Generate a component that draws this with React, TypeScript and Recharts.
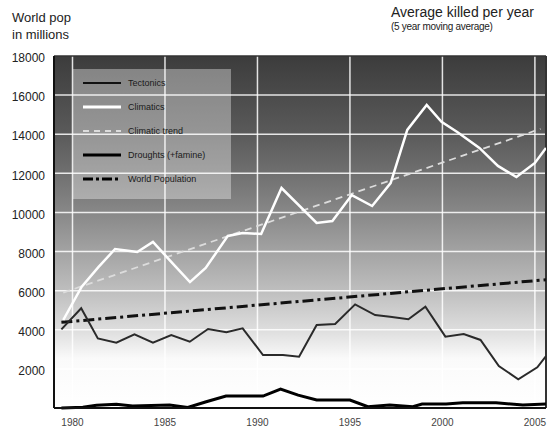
import { CartesianGrid, Line, LineChart, ReferenceLine, XAxis, YAxis } from "recharts";

type Point = { year: number; v: number };

const yearTicks = [1980, 1985, 1990, 1995, 2000, 2005];
const valueTicks = [2000, 4000, 6000, 8000, 10000, 12000, 14000, 16000, 18000];
const gridValues = [2000, 4000, 6000, 8000, 10000, 12000, 14000, 16000];

const tectonics: Point[] = [
  { year: 1979.4, v: 4020 },
  { year: 1980.47, v: 5100 },
  { year: 1981.37, v: 3560 },
  { year: 1982.37, v: 3340 },
  { year: 1983.35, v: 3770 },
  { year: 1984.35, v: 3340 },
  { year: 1985.34, v: 3730 },
  { year: 1986.34, v: 3390 },
  { year: 1987.33, v: 4040 },
  { year: 1988.32, v: 3870 },
  { year: 1989.2, v: 4075 },
  { year: 1990.3, v: 2710 },
  { year: 1991.38, v: 2710 },
  { year: 1992.25, v: 2620 },
  { year: 1993.2, v: 4245 },
  { year: 1994.2, v: 4300 },
  { year: 1995.28, v: 5300 },
  { year: 1996.36, v: 4750 },
  { year: 1997.17, v: 4670 },
  { year: 1998.16, v: 4540 },
  { year: 1999.08, v: 5180 },
  { year: 2000.16, v: 3650 },
  { year: 2001.15, v: 3780 },
  { year: 2002.06, v: 3480 },
  { year: 2003.05, v: 2150 },
  { year: 2004.1, v: 1470 },
  { year: 2005.13, v: 2080 },
  { year: 2005.6, v: 2650 },
];

const climatics: Point[] = [
  { year: 1979.5, v: 4500 },
  { year: 1980.5, v: 6200 },
  { year: 1981.4, v: 7200 },
  { year: 1982.3, v: 8130 },
  { year: 1983.1, v: 8030 },
  { year: 1983.5, v: 7980 },
  { year: 1984.35, v: 8490 },
  { year: 1985.4, v: 7410 },
  { year: 1986.35, v: 6440 },
  { year: 1987.2, v: 7160 },
  { year: 1988.4, v: 8800 },
  { year: 1989.2, v: 8950 },
  { year: 1990.2, v: 8900 },
  { year: 1991.3, v: 11250 },
  { year: 1993.2, v: 9460 },
  { year: 1994.05, v: 9560 },
  { year: 1995.1, v: 10890 },
  { year: 1996.2, v: 10330 },
  { year: 1997.2, v: 11500 },
  { year: 1998.1, v: 14220 },
  { year: 1999.15, v: 15500 },
  { year: 1999.95, v: 14630 },
  { year: 2000.8, v: 14110 },
  { year: 2002.0, v: 13300 },
  { year: 2003.0, v: 12380 },
  { year: 2004.0, v: 11810 },
  { year: 2005.0, v: 12530 },
  { year: 2005.6, v: 13300 },
];

const climaticTrend: Point[] = [
  { year: 1979.5, v: 5900 },
  { year: 2005.3, v: 14270 },
];

const droughts: Point[] = [
  { year: 1979.4, v: 0 },
  { year: 1980.56, v: 40 },
  { year: 1981.3, v: 140 },
  { year: 1982.37, v: 190 },
  { year: 1983.25, v: 100 },
  { year: 1985.25, v: 150 },
  { year: 1986.23, v: 30 },
  { year: 1987.23, v: 320 },
  { year: 1988.3, v: 610 },
  { year: 1990.3, v: 610 },
  { year: 1991.25, v: 970 },
  { year: 1992.2, v: 660 },
  { year: 1993.2, v: 410 },
  { year: 1995.0, v: 410 },
  { year: 1995.97, v: 70 },
  { year: 1997.15, v: 150 },
  { year: 1998.4, v: 70 },
  { year: 1998.9, v: 200 },
  { year: 2000.2, v: 200 },
  { year: 2001.1, v: 270 },
  { year: 2002.9, v: 270 },
  { year: 2004.35, v: 150 },
  { year: 2005.6, v: 200 },
];

const worldPopulation: Point[] = [
  { year: 1979.4, v: 4380 },
  { year: 2005.6, v: 6560 },
];

const legendItems = [
  { label: "Tectonics", stroke: "#111", width: 2, dash: undefined },
  { label: "Climatics", stroke: "#fff", width: 3, dash: undefined },
  { label: "Climatic trend", stroke: "#dcdcdc", width: 2, dash: "6 5" },
  { label: "Droughts (+famine)", stroke: "#000", width: 3, dash: undefined },
  { label: "World Population", stroke: "#000", width: 3, dash: "10 3 3 3" },
];

const font = '"Liberation Sans", Arial, sans-serif';

function ChartLegend() {
  return (
    <div
      style={{
        position: "absolute",
        left: 73,
        top: 69,
        width: 158,
        height: 130,
        background: "rgba(255,255,255,0.36)",
      }}
    >
      <svg width={158} height={130}>
        {legendItems.map((item, i) => {
          const y = 14 + i * 24;
          return (
            <g key={item.label}>
              <line
                x1={10}
                x2={48}
                y1={y}
                y2={y}
                stroke={item.stroke}
                strokeWidth={item.width}
                strokeDasharray={item.dash}
              />
              <text x={55} y={y + 3} fontSize={9} fill="#1a1a1a" fontFamily={font}>
                {item.label}
              </text>
            </g>
          );
        })}
      </svg>
    </div>
  );
}

export default function App() {
  return (
    <div
      style={{
        position: "absolute",
        left: 0,
        top: 0,
        width: 552,
        height: 428,
        background: "#fff",
        fontFamily: font,
        color: "#222",
      }}
    >
      <div style={{ position: "absolute", left: 12, top: 9, fontSize: 13, lineHeight: "17px" }}>
        World pop
        <br />
        in millions
      </div>
      <div style={{ position: "absolute", left: 391, top: 3, fontSize: 14, lineHeight: "18px" }}>
        Average killed per year
      </div>
      <div
        style={{
          position: "absolute",
          left: 391,
          top: 21,
          fontSize: 10,
          lineHeight: "12px",
          letterSpacing: -0.3,
        }}
      >
        (5 year moving average)
      </div>
      <div style={{ position: "absolute", left: 0, top: 0 }}>
        <LineChart width={552} height={428} margin={{ top: 56, right: 6, bottom: 0, left: 0 }}>
          <defs>
            <linearGradient id="bgGrad" x1="0" y1="0" x2="0" y2="1">
              <stop offset="0" stopColor="#3c3c3c" />
              <stop offset="0.11" stopColor="#4b4b4b" />
              <stop offset="0.22" stopColor="#5a5a5a" />
              <stop offset="0.33" stopColor="#6f6f6f" />
              <stop offset="0.45" stopColor="#898989" />
              <stop offset="0.56" stopColor="#a4a4a4" />
              <stop offset="0.67" stopColor="#bfbfbf" />
              <stop offset="0.78" stopColor="#dedede" />
              <stop offset="0.86" stopColor="#fafafa" />
              <stop offset="1" stopColor="#ffffff" />
            </linearGradient>
          </defs>
          <CartesianGrid
            fill="url(#bgGrad)"
            stroke="rgba(255,255,255,0.85)"
            strokeWidth={1.5}
            horizontalValues={gridValues}
            verticalValues={yearTicks}
          />
          <XAxis
            dataKey="year"
            type="number"
            domain={[1979, 2005.6]}
            allowDataOverflow
            ticks={yearTicks}
            height={20}
            axisLine={{ stroke: "#111", strokeWidth: 2 }}
            tickLine={false}
            tickMargin={5}
            tick={{ fill: "#444", fontSize: 10, fontFamily: font }}
          />
          <YAxis
            dataKey="v"
            type="number"
            domain={[0, 18000]}
            ticks={valueTicks}
            width={54}
            axisLine={{ stroke: "#111", strokeWidth: 2 }}
            tickLine={false}
            tickMargin={3}
            tick={{ fill: "#222", fontSize: 12, fontFamily: font, dy: 2 }}
          />
          <ReferenceLine x={2005.6} stroke="#333" strokeWidth={2} />
          <ReferenceLine y={18000} stroke="#333" strokeWidth={1.5} />
          <Line
            data={climaticTrend}
            dataKey="v"
            stroke="#dcdcdc"
            strokeWidth={1.8}
            strokeDasharray="7 5"
            dot={false}
            isAnimationActive={false}
            type="linear"
          />
          <Line
            data={worldPopulation}
            dataKey="v"
            stroke="#111"
            strokeWidth={3}
            strokeDasharray="11 4 3 4"
            dot={false}
            isAnimationActive={false}
            type="linear"
          />
          <Line
            data={tectonics}
            dataKey="v"
            stroke="#2a2a2a"
            strokeWidth={2}
            dot={false}
            isAnimationActive={false}
            type="linear"
          />
          <Line
            data={droughts}
            dataKey="v"
            stroke="#000"
            strokeWidth={3}
            dot={false}
            isAnimationActive={false}
            type="linear"
          />
          <Line
            data={climatics}
            dataKey="v"
            stroke="#fff"
            strokeWidth={2.5}
            dot={false}
            isAnimationActive={false}
            type="linear"
          />
        </LineChart>
        <ChartLegend />
      </div>
    </div>
  );
}
